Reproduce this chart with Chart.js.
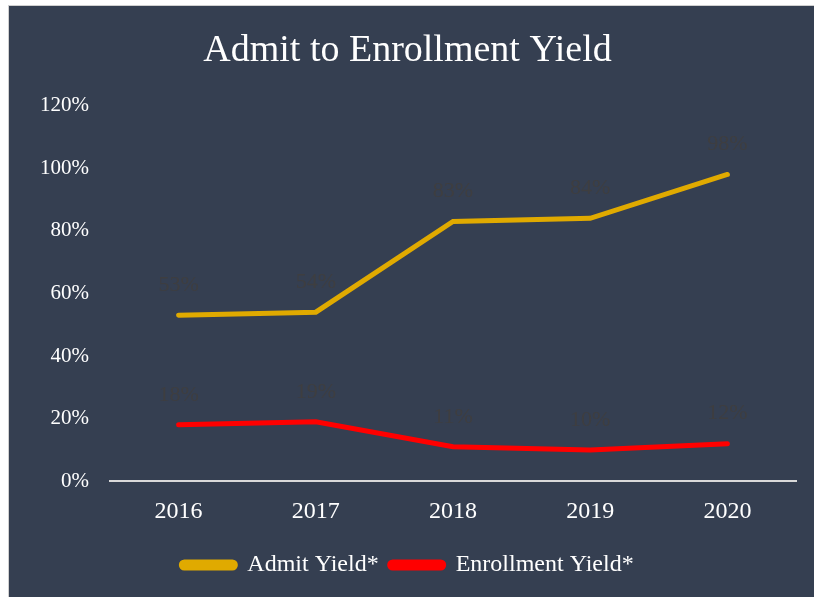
<!DOCTYPE html>
<html>
<head>
<meta charset="utf-8">
<script src="https://cdn.jsdelivr.net/npm/chart.js@4.4.0/dist/chart.umd.min.js"></script>
<style>
  html, body { margin: 0; padding: 0; background: #ffffff; }
  #panel {
    position: absolute; left: 8px; top: 5px; width: 806px; height: 592px;
    background: #353f51; border-left: 1px solid #d0d0d0; border-top: 1px solid #d0d0d0;
  }
  #chart { width: 806px; height: 592px; }
</style>
</head>
<body>
<div id="panel"><canvas id="chart"></canvas></div>
<script>
const years = ['2016', '2017', '2018', '2019', '2020'];
const admitYield = [53, 54, 83, 84, 98];
const enrollmentYield = [18, 19, 11, 10, 12];
const yTicks = [0, 20, 40, 60, 80, 100, 120];

const serif = '"Liberation Serif", "DejaVu Serif", serif';

// point labels, drawn dark like the original
const pointLabels = {
    id: 'pointLabels',
    afterDatasetsDraw(chart) {
        const ctx = chart.ctx;
        ctx.save();
        ctx.font = '22px ' + serif;
        ctx.fillStyle = '#3e3e40';
        ctx.textAlign = 'center';
        ctx.textBaseline = 'middle';
        chart.data.datasets.forEach((ds, i) => {
            chart.getDatasetMeta(i).data.forEach((pt, j) => {
                ctx.fillText(ds.data[j] + '%', pt.x, pt.y - 30);
            });
        });
        ctx.restore();
    }
};

new Chart(document.getElementById('chart'), {
    type: 'line',
    data: {
        labels: years,
        datasets: [
            {
                label: 'Admit Yield*',
                data: admitYield,
                borderColor: '#e0aa00',
                backgroundColor: '#e0aa00',
                borderWidth: 5,
                pointRadius: 0,
                borderCapStyle: 'round',
                tension: 0
            },
            {
                label: 'Enrollment Yield*',
                data: enrollmentYield,
                borderColor: '#ff0000',
                backgroundColor: '#ff0000',
                borderWidth: 5,
                pointRadius: 0,
                borderCapStyle: 'round',
                tension: 0
            }
        ]
    },
    options: {
        responsive: true,
        maintainAspectRatio: false,
        animation: false,
        layout: { padding: { left: 10, right: 19, top: 10, bottom: 11 } },
        plugins: {
            title: {
                display: true,
                text: 'Admit to Enrollment Yield',
                color: '#ffffff',
                font: { family: serif, size: 38, weight: 'normal' },
                padding: { top: 12, bottom: 32 }
            },
            legend: {
                position: 'bottom',
                labels: {
                    color: '#ffffff',
                    font: { family: serif, size: 24 },
                    boxWidth: 54,
                    boxHeight: 6,
                    useBorderRadius: true,
                    borderRadius: 3,
                    padding: 11
                }
            },
            tooltip: { enabled: false }
        },
        scales: {
            x: {
                offset: true,
                grid: { display: false, drawTicks: false },
                border: { color: '#d9d9d9', width: 2 },
                ticks: { color: '#ffffff', font: { family: serif, size: 24 }, padding: 16 }
            },
            y: {
                min: 0,
                max: 120,
                afterBuildTicks: axis => { axis.ticks = yTicks.map(v => ({ value: v })); },
                grid: { display: false, drawTicks: false },
                border: { display: false },
                ticks: {
                    color: '#ffffff',
                    font: { family: serif, size: 21 },
                    padding: 21,
                    callback: v => v + '%'
                }
            }
        }
    },
    plugins: [pointLabels]
});
</script>
</body>
</html>
